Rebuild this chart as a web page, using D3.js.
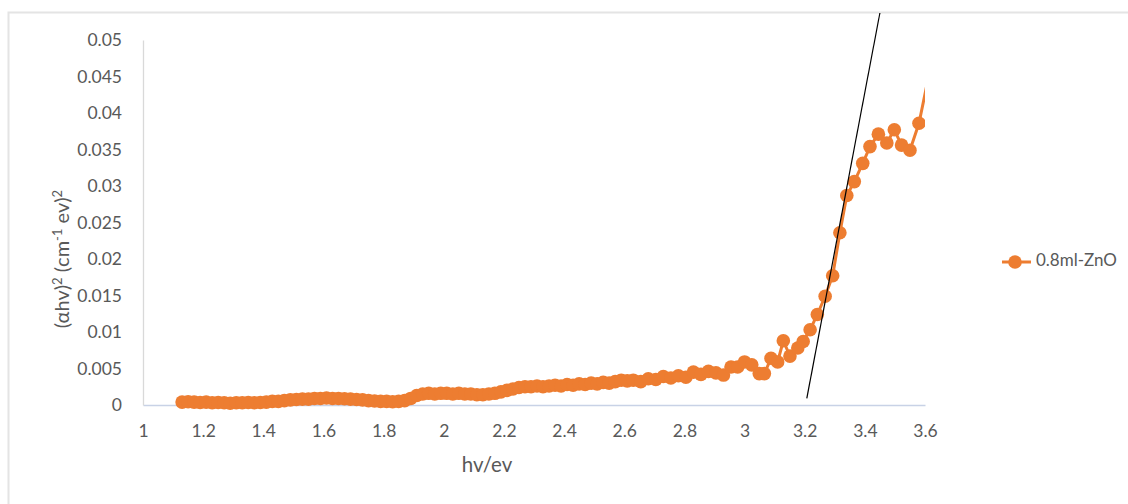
<!DOCTYPE html>
<html>
<head>
<meta charset="utf-8">
<script src="https://cdn.jsdelivr.net/npm/d3@7"></script>
<style>
  html, body { margin: 0; padding: 0; background: #fff; }
  svg { display: block; font-family: Lato, "Open Sans", sans-serif; }
</style>
</head>
<body>
<svg id="chart" width="1128" height="504"></svg>
<script>
// photon energy (eV)
const hv = [
  1.13, 1.15, 1.17, 1.19, 1.21, 1.23, 1.25, 1.27, 1.29, 1.31, 1.33, 1.35, 1.37, 1.39,
  1.41, 1.43, 1.45, 1.47, 1.49, 1.51, 1.53, 1.55, 1.57, 1.59, 1.61, 1.63, 1.65, 1.67,
  1.69, 1.71, 1.73, 1.75, 1.77, 1.79, 1.81, 1.83, 1.85, 1.87, 1.89, 1.91, 1.93, 1.95,
  1.97, 1.99, 2.01, 2.03, 2.05, 2.07, 2.09, 2.11, 2.13, 2.15, 2.17, 2.19, 2.21, 2.23,
  2.25, 2.27, 2.29, 2.31, 2.33, 2.35, 2.37, 2.39, 2.41, 2.43, 2.45, 2.47, 2.49, 2.51,
  2.53, 2.55, 2.57, 2.59, 2.61, 2.63, 2.655, 2.68, 2.705, 2.73, 2.755, 2.78, 2.805, 2.83,
  2.855, 2.88, 2.905, 2.93, 2.955, 2.977, 3.0, 3.024, 3.049, 3.066, 3.088, 3.11, 3.129,
  3.151, 3.177, 3.195, 3.218, 3.242, 3.268, 3.293, 3.317, 3.34, 3.365, 3.393, 3.417,
  3.445, 3.473, 3.498, 3.522, 3.55, 3.58, 3.63
];
// (alpha*hv)^2
const ahv2 = [
  0.0004, 0.00045, 0.0004, 0.00035, 0.0004, 0.0003, 0.00035, 0.0003, 0.00025, 0.0003, 0.0003, 0.00035, 0.0003, 0.00035,
  0.0004, 0.0005, 0.0005, 0.0006, 0.0007, 0.00075, 0.0008, 0.0008, 0.0009, 0.0009, 0.00095, 0.0009, 0.0009, 0.00085,
  0.0008, 0.00075, 0.0007, 0.0006, 0.00055, 0.0005, 0.0005, 0.00045, 0.0005, 0.0006, 0.0009, 0.0013, 0.0015, 0.0016,
  0.0015, 0.0016, 0.0016, 0.0015, 0.0016, 0.0015, 0.0015, 0.0014, 0.0014, 0.0015, 0.0016, 0.0018, 0.002, 0.0022,
  0.0024, 0.0025, 0.0025, 0.0026, 0.0025, 0.0026, 0.0027, 0.0026, 0.0028, 0.0027, 0.0029, 0.0028, 0.003, 0.0029,
  0.0031, 0.003, 0.0032, 0.0034, 0.0033, 0.0034, 0.0032, 0.0036, 0.0035, 0.0039, 0.0037, 0.004, 0.0038, 0.0045,
  0.0042, 0.0046, 0.0044, 0.0041, 0.0052, 0.0052, 0.0059, 0.0055, 0.0043, 0.0043, 0.0064, 0.0059, 0.0088,
  0.0067, 0.0078, 0.0087, 0.0103, 0.0124, 0.0149, 0.0177, 0.0236, 0.0287, 0.0306, 0.0331, 0.0354,
  0.0371, 0.0359, 0.0377, 0.0356, 0.0349, 0.0386, 0.0486
];
// band-gap tangent
const tangentX = [3.207, 3.45];
const tangentY = [0.0009, 0.0537];

const xTicks = [1, 1.2, 1.4, 1.6, 1.8, 2, 2.2, 2.4, 2.6, 2.8, 3, 3.2, 3.4, 3.6];
const xTickLabels = ['1', '1.2', '1.4', '1.6', '1.8', '2', '2.2', '2.4', '2.6', '2.8', '3', '3.2', '3.4', '3.6'];
const yTicks = [0, 0.005, 0.01, 0.015, 0.02, 0.025, 0.03, 0.035, 0.04, 0.045, 0.05];
const yTickLabels = ['0', '0.005', '0.01', '0.015', '0.02', '0.025', '0.03', '0.035', '0.04', '0.045', '0.05'];
const seriesName = '0.8ml-ZnO';

const ORANGE = '#ED7D31';
const TEXT = '#595959';

const svg = d3.select('#chart');
const x = d3.scaleLinear().domain([1, 3.6]).range([143, 925]);
const y = d3.scaleLinear().domain([0, 0.05]).range([405, 40]);

// chart frame (only top/left edges visible)
svg.append('path')
  .attr('d', 'M8.5,504 L8.5,12.5 L1128,12.5')
  .attr('fill', 'none')
  .attr('stroke', '#e4e4e4')
  .attr('stroke-width', 2);

svg.append('clipPath').attr('id', 'plotclip')
  .append('rect').attr('x', 143).attr('y', 0).attr('width', 925 - 143).attr('height', 420);

// axes
const xAxis = svg.append('g')
  .attr('transform', `translate(0,${y(0)})`)
  .call(d3.axisBottom(x).tickValues(xTicks)
    .tickFormat((d, i) => xTickLabels[i]).tickSize(0).tickPadding(20));
xAxis.select('.domain').attr('stroke', '#c8d2e6').attr('stroke-width', 1.3);

const yAxis = svg.append('g')
  .attr('transform', `translate(${x(1)},0)`)
  .call(d3.axisLeft(y).tickValues(yTicks)
    .tickFormat((d, i) => yTickLabels[i]).tickSize(0).tickPadding(21));
yAxis.select('.domain').attr('stroke', '#d9d9d9').attr('stroke-width', 1.3);

svg.selectAll('.tick text')
  .attr('fill', TEXT)
  .style('font-family', 'Lato, "Open Sans", sans-serif')
  .style('font-size', '17.5px');

// data series
const pts = hv.map((v, i) => [v, ahv2[i]]);
const plot = svg.append('g').attr('clip-path', 'url(#plotclip)');

plot.append('path')
  .datum(pts)
  .attr('d', d3.line().x(d => x(d[0])).y(d => y(d[1])))
  .attr('fill', 'none')
  .attr('stroke', ORANGE)
  .attr('stroke-width', 3)
  .attr('stroke-linejoin', 'round');

plot.append('g').selectAll('circle')
  .data(pts)
  .enter().append('circle')
  .attr('cx', d => x(d[0]))
  .attr('cy', d => y(d[1]))
  .attr('r', 6.8)
  .attr('fill', ORANGE);

// tangent line
svg.append('line')
  .attr('x1', x(tangentX[0])).attr('y1', y(tangentY[0]))
  .attr('x2', x(tangentX[1])).attr('y2', y(tangentY[1]))
  .attr('stroke', '#000')
  .attr('stroke-width', 1.2);

// axis titles
svg.append('text')
  .attr('x', 487).attr('y', 467)
  .attr('text-anchor', 'middle')
  .attr('dominant-baseline', 'middle')
  .attr('fill', TEXT)
  .style('font-size', '20.5px')
  .text('hv/ev');

const yt = svg.append('text')
  .attr('transform', 'translate(64,259) rotate(-90)')
  .attr('text-anchor', 'middle')
  .attr('dominant-baseline', 'middle')
  .attr('fill', TEXT)
  .style('font-size', '20px');
yt.append('tspan').text('(\u03B1hv)');
yt.append('tspan').attr('baseline-shift', '40%').style('font-size', '13px').text('2');
yt.append('tspan').text(' (cm');
yt.append('tspan').attr('baseline-shift', '40%').style('font-size', '13px').text('-1');
yt.append('tspan').text(' ev)');
yt.append('tspan').attr('baseline-shift', '40%').style('font-size', '13px').text('2');

// legend
const lg = svg.append('g').attr('transform', 'translate(0,262)');
lg.append('line')
  .attr('x1', 1002).attr('x2', 1031).attr('y1', 0).attr('y2', 0)
  .attr('stroke', ORANGE).attr('stroke-width', 3);
lg.append('circle').attr('cx', 1015).attr('cy', 0).attr('r', 6.8).attr('fill', ORANGE);
lg.append('text')
  .attr('x', 1036).attr('y', 0)
  .attr('dominant-baseline', 'middle')
  .attr('fill', TEXT)
  .style('font-size', '17px')
  .text(seriesName);
</script>
</body>
</html>
